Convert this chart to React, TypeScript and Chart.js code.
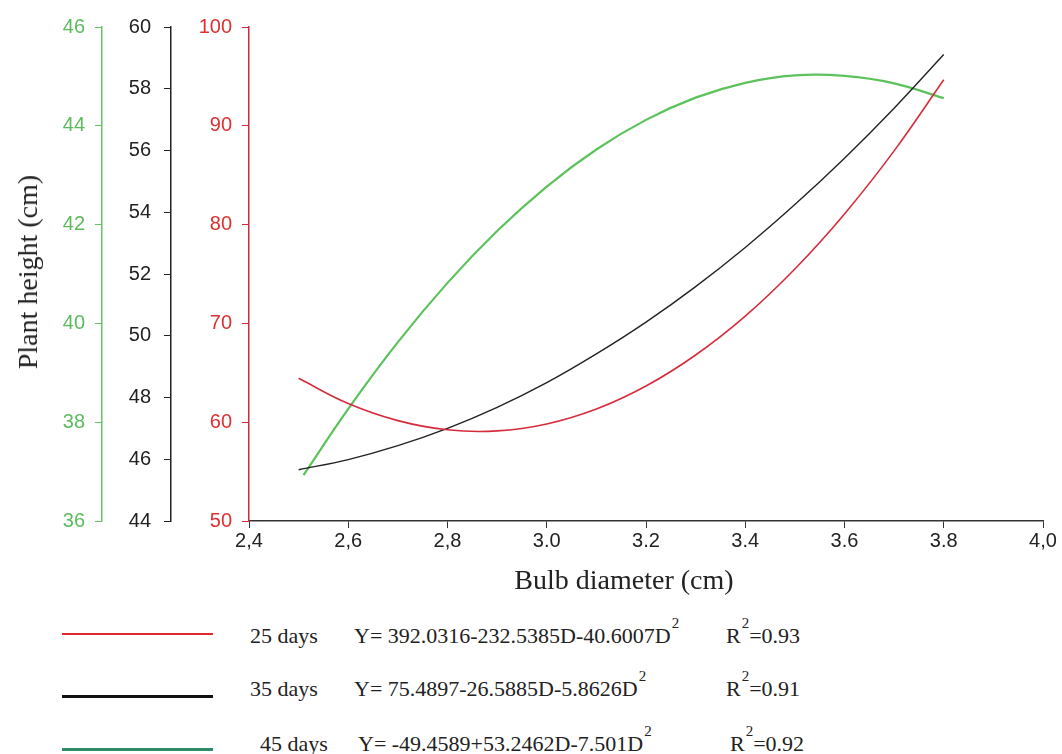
import React, { useEffect, useRef } from "react";
import { Chart, registerables } from "chart.js";

Chart.register(...registerables);

// ---- data ----
const DIAMETER_25 = [2.5, 2.6, 2.7, 2.8, 2.9, 3.0, 3.1, 3.2, 3.3, 3.4, 3.5, 3.6, 3.7, 3.8];
const HEIGHT_25 = [64.44, 61.89, 60.16, 59.23, 59.12, 59.82, 61.33, 63.66, 66.8, 70.74, 75.51, 81.08, 87.46, 94.66];

const DIAMETER_35 = [2.5, 2.6, 2.7, 2.8, 2.9, 3.0, 3.1, 3.2, 3.3, 3.4, 3.5, 3.6, 3.7, 3.8];
const HEIGHT_35 = [45.66, 45.99, 46.44, 47.0, 47.68, 48.48, 49.41, 50.44, 51.59, 52.86, 54.25, 55.75, 57.37, 59.11];

const DIAMETER_45 = [2.51, 2.6, 2.7, 2.8, 2.9, 3.0, 3.1, 3.2, 3.3, 3.4, 3.5, 3.6, 3.7, 3.8];
const HEIGHT_45 = [36.93, 38.27, 39.62, 40.82, 41.87, 42.77, 43.52, 44.12, 44.57, 44.87, 45.02, 45.01, 44.86, 44.56];

const X_TICK_LABELS = ["2,4", "2,6", "2,8", "3.0", "3.2", "3.4", "3.6", "3.8", "4,0"];

const LEGEND_DAYS = ["25 days", "35 days", "45 days"];
const LEGEND_EQUATIONS = [
  "Y= 392.0316-232.5385D-40.6007D",
  "Y= 75.4897-26.5885D-5.8626D",
  "Y= -49.4589+53.2462D-7.501D",
];
const LEGEND_R2 = ["=0.93", "=0.91", "=0.92"];

const Y_TITLE = "Plant height (cm)";
const X_TITLE = "Bulb diameter (cm)";

// ---- styles ----
const RED = "#d42c3c";
const BLACK = "#222222";
const GREEN = "#5cc25c";
const RED_AXIS = "#cf2a3a";
const GREEN_AXIS = "#66c466";
const LEGEND_LINE_COLORS = ["#e0282c", "#111111", "#2f8c66"];

const TICK_FONT = { family: "'Liberation Sans', Arial, sans-serif", size: 20 };
const SERIF = "'Liberation Serif', 'Times New Roman', serif";

export default function App() {
  const canvasRef = useRef<HTMLCanvasElement | null>(null);

  useEffect(() => {
    const canvas = canvasRef.current;
    if (!canvas) return;
    const pts = (xs: number[], ys: number[]) => xs.map((x, i) => ({ x, y: ys[i] }));
    const chart = new Chart(canvas, {
      type: "line",
      data: {
        datasets: [
          {
            label: LEGEND_DAYS[0],
            data: pts(DIAMETER_25, HEIGHT_25),
            yAxisID: "yRed",
            borderColor: RED,
            borderWidth: 1.6,
            pointRadius: 0,
            tension: 0.4,
            fill: false,
          },
          {
            label: LEGEND_DAYS[1],
            data: pts(DIAMETER_35, HEIGHT_35),
            yAxisID: "yBlack",
            borderColor: BLACK,
            borderWidth: 1.4,
            pointRadius: 0,
            tension: 0.4,
            fill: false,
          },
          {
            label: LEGEND_DAYS[2],
            data: pts(DIAMETER_45, HEIGHT_45),
            yAxisID: "yGreen",
            borderColor: GREEN,
            borderWidth: 2.2,
            pointRadius: 0,
            tension: 0.4,
            fill: false,
          },
        ],
      },
      options: {
        responsive: false,
        animation: false,
        layout: { padding: { top: 27, right: 19, bottom: 0, left: 0 } },
        plugins: { legend: { display: false }, tooltip: { enabled: false } },
        scales: {
          x: {
            type: "linear",
            position: "bottom",
            min: 2.4,
            max: 4.0,
            ticks: {
              stepSize: 0.2,
              autoSkip: false,
              maxRotation: 0,
              padding: 1,
              color: "#222",
              font: TICK_FONT,
              callback: (_v: any, i: number) => X_TICK_LABELS[i],
            },
            grid: { drawOnChartArea: false, color: "#333", tickLength: 7 },
            border: { color: "#333", width: 1.5 },
            afterFit: (s: any) => {
              s.height = 79;
            },
          },
          yGreen: {
            type: "linear",
            position: "left",
            weight: 2,
            min: 36,
            max: 46,
            ticks: { stepSize: 2, color: "#5cbc5c", font: TICK_FONT, padding: 10 },
            grid: { drawOnChartArea: false, color: GREEN_AXIS, tickLength: 7 },
            border: { color: GREEN_AXIS, width: 1.5 },
            afterFit: (s: any) => {
              s.width = 102;
            },
          },
          yBlack: {
            type: "linear",
            position: "left",
            weight: 1,
            min: 44,
            max: 60,
            ticks: { stepSize: 2, color: "#222", font: TICK_FONT, padding: 13 },
            grid: { drawOnChartArea: false, color: "#222", tickLength: 7 },
            border: { color: "#222", width: 1.5 },
            afterFit: (s: any) => {
              s.width = 69;
            },
          },
          yRed: {
            type: "linear",
            position: "left",
            weight: 0,
            min: 50,
            max: 100,
            ticks: { stepSize: 10, color: "#dd3030", font: TICK_FONT, padding: 10 },
            grid: { drawOnChartArea: false, color: RED_AXIS, tickLength: 7 },
            border: { color: RED_AXIS, width: 1.5 },
            afterFit: (s: any) => {
              s.width = 78;
            },
          },
        },
      },
    } as any);
    return () => chart.destroy();
  }, []);

  const rowTops = [625, 678, 733];
  const dayLefts = [250, 250, 260];
  const eqLefts = [354, 354, 358];
  const rLefts = [726, 726, 730];
  const lineYs = [634, 696, 749];
  const lineWidths = [2, 3, 3];

  const textStyle: React.CSSProperties = {
    position: "absolute",
    fontFamily: SERIF,
    fontSize: 22,
    lineHeight: "22px",
    color: "#222",
    whiteSpace: "nowrap",
  };
  const sup: React.CSSProperties = { fontSize: 15, position: "relative", top: -15, marginLeft: 1 };

  return (
    <div
      style={{
        position: "fixed",
        left: 0,
        top: 0,
        width: 1062,
        height: 754,
        background: "#fff",
        overflow: "hidden",
      }}
    >
      <canvas
        ref={canvasRef}
        width={1062}
        height={600}
        style={{ position: "absolute", left: 0, top: 0, width: 1062, height: 600 }}
      />
      <div
        style={{
          position: "absolute",
          left: 28,
          top: 272,
          transform: "translate(-50%, -50%) rotate(-90deg)",
          fontFamily: SERIF,
          fontSize: 28,
          color: "#222",
          whiteSpace: "nowrap",
        }}
      >
        {Y_TITLE}
      </div>
      <div
        style={{
          position: "absolute",
          left: 624,
          top: 580,
          transform: "translate(-50%, -50%)",
          fontFamily: SERIF,
          fontSize: 28,
          color: "#222",
          whiteSpace: "nowrap",
        }}
      >
        {X_TITLE}
      </div>
      {LEGEND_DAYS.map((d, i) => (
        <React.Fragment key={d}>
          <div
            style={{
              position: "absolute",
              left: 62,
              width: 151,
              top: lineYs[i] - lineWidths[i] / 2,
              height: lineWidths[i],
              background: LEGEND_LINE_COLORS[i],
            }}
          />
          <div style={{ ...textStyle, left: dayLefts[i], top: rowTops[i] }}>{d}</div>
          <div style={{ ...textStyle, left: eqLefts[i], top: rowTops[i] }}>
            {LEGEND_EQUATIONS[i]}
            <span style={sup}>2</span>
          </div>
          <div style={{ ...textStyle, left: rLefts[i], top: rowTops[i] }}>
            R<span style={{ ...sup, marginLeft: 1 }}>2</span>
            {LEGEND_R2[i]}
          </div>
        </React.Fragment>
      ))}
    </div>
  );
}
